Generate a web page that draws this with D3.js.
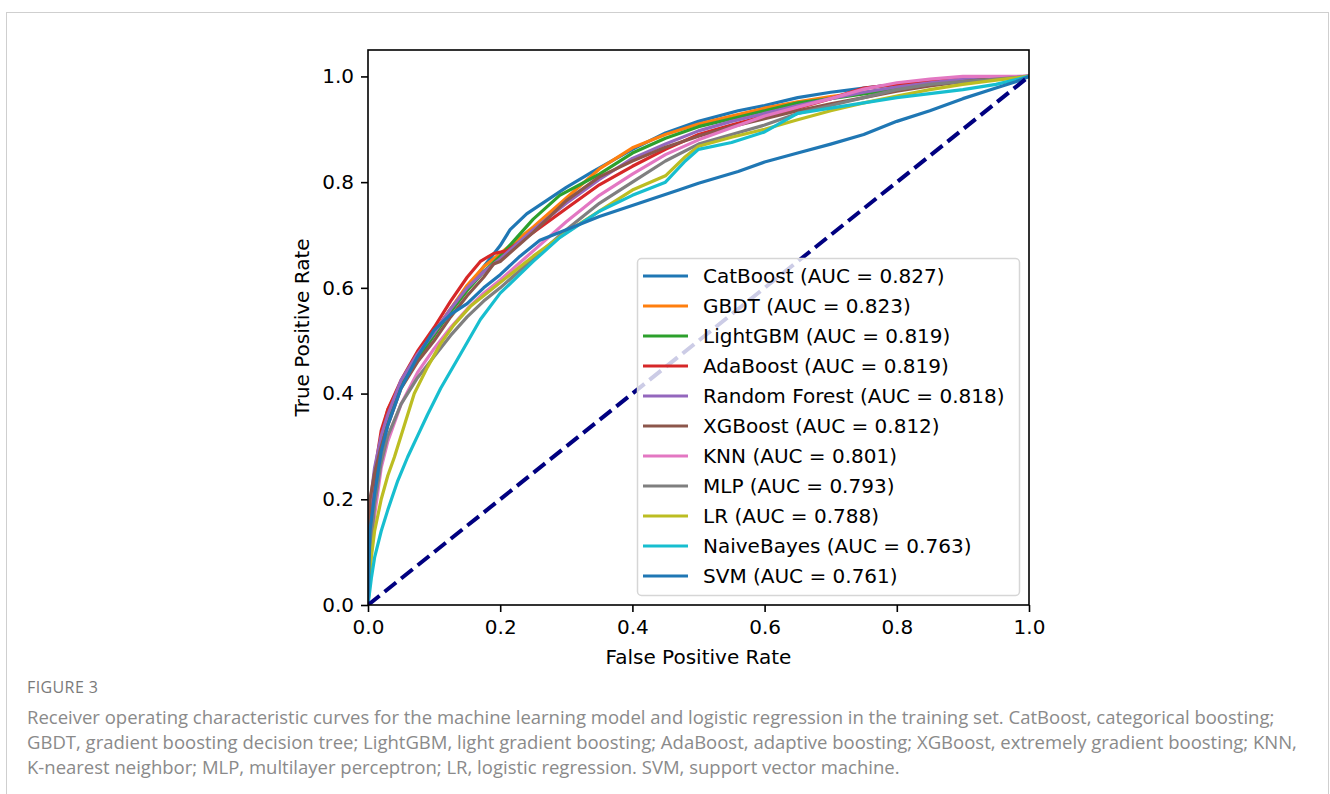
<!DOCTYPE html>
<html>
<head>
<meta charset="utf-8">
<script src="https://cdn.jsdelivr.net/npm/d3@7"></script>
<style>
  html, body { margin: 0; padding: 0; background: #fff; }
</style>
</head>
<body>
<div id="chart"></div>
<script>
// model names + AUC, in plot order
const modelNames = ["CatBoost", "GBDT", "LightGBM", "AdaBoost", "Random Forest", "XGBoost", "KNN", "MLP", "LR", "NaiveBayes", "SVM"];
const aucValues = [0.827, 0.823, 0.819, 0.819, 0.818, 0.812, 0.801, 0.793, 0.788, 0.763, 0.761];
const lineColors = ["#1f77b4", "#ff7f0e", "#2ca02c", "#d62728", "#9467bd", "#8c564b", "#e377c2", "#7f7f7f", "#bcbd22", "#17becf", "#1f77b4"];

// [fpr, tpr]
const catboostRoc = [[0,0],[0.002,0.12],[0.01,0.22],[0.02,0.3],[0.03,0.35],[0.05,0.42],[0.075,0.47],[0.1,0.515],[0.125,0.56],[0.15,0.6],[0.175,0.64],[0.2,0.68],[0.215,0.71],[0.24,0.74],[0.27,0.765],[0.3,0.79],[0.34,0.82],[0.4,0.862],[0.45,0.893],[0.5,0.915],[0.56,0.935],[0.6,0.945],[0.65,0.96],[0.7,0.97],[0.75,0.978],[0.8,0.985],[0.85,0.99],[0.9,0.995],[0.95,0.998],[1,1]];
const gbdtRoc = [[0,0],[0.003,0.15],[0.01,0.24],[0.02,0.32],[0.03,0.37],[0.05,0.42],[0.075,0.475],[0.1,0.515],[0.125,0.56],[0.15,0.605],[0.175,0.64],[0.2,0.665],[0.225,0.69],[0.25,0.715],[0.3,0.77],[0.35,0.825],[0.4,0.865],[0.45,0.89],[0.5,0.91],[0.55,0.925],[0.6,0.94],[0.65,0.952],[0.7,0.962],[0.75,0.97],[0.8,0.978],[0.85,0.986],[0.9,0.993],[0.95,0.998],[1,1]];
const lightgbmRoc = [[0,0],[0.003,0.13],[0.01,0.22],[0.02,0.3],[0.03,0.35],[0.05,0.415],[0.075,0.465],[0.1,0.51],[0.125,0.555],[0.15,0.595],[0.175,0.63],[0.2,0.66],[0.225,0.695],[0.25,0.73],[0.29,0.775],[0.35,0.815],[0.4,0.855],[0.45,0.883],[0.5,0.905],[0.55,0.92],[0.6,0.935],[0.65,0.95],[0.7,0.958],[0.75,0.967],[0.8,0.976],[0.85,0.985],[0.9,0.992],[0.95,0.997],[1,1]];
const adaboostRoc = [[0,0],[0.003,0.16],[0.01,0.25],[0.02,0.33],[0.03,0.37],[0.05,0.425],[0.075,0.48],[0.1,0.525],[0.125,0.575],[0.15,0.62],[0.17,0.65],[0.19,0.665],[0.21,0.67],[0.25,0.705],[0.3,0.75],[0.35,0.795],[0.4,0.83],[0.45,0.862],[0.5,0.89],[0.55,0.908],[0.6,0.925],[0.65,0.94],[0.7,0.958],[0.75,0.978],[0.8,0.985],[0.85,0.99],[0.9,0.995],[0.95,0.998],[1,1]];
const rfRoc = [[0,0],[0.003,0.19],[0.01,0.26],[0.02,0.32],[0.03,0.36],[0.05,0.425],[0.075,0.475],[0.1,0.515],[0.125,0.56],[0.15,0.6],[0.175,0.63],[0.2,0.655],[0.25,0.71],[0.3,0.76],[0.35,0.805],[0.4,0.845],[0.45,0.872],[0.5,0.897],[0.55,0.915],[0.6,0.93],[0.65,0.945],[0.7,0.958],[0.75,0.97],[0.8,0.98],[0.85,0.988],[0.9,0.995],[0.95,0.999],[1,1]];
const xgboostRoc = [[0,0],[0.003,0.2],[0.01,0.25],[0.02,0.3],[0.03,0.34],[0.05,0.41],[0.075,0.46],[0.1,0.5],[0.125,0.545],[0.15,0.585],[0.175,0.62],[0.19,0.645],[0.2,0.65],[0.25,0.705],[0.3,0.765],[0.35,0.81],[0.4,0.84],[0.45,0.866],[0.5,0.887],[0.55,0.905],[0.6,0.92],[0.65,0.935],[0.7,0.948],[0.75,0.96],[0.8,0.972],[0.85,0.982],[0.9,0.99],[0.95,0.996],[1,1]];
const knnRoc = [[0,0],[0.005,0.1],[0.01,0.17],[0.02,0.26],[0.03,0.31],[0.05,0.38],[0.075,0.44],[0.1,0.485],[0.125,0.525],[0.15,0.56],[0.175,0.59],[0.2,0.615],[0.25,0.67],[0.3,0.725],[0.35,0.775],[0.4,0.815],[0.45,0.852],[0.5,0.88],[0.55,0.903],[0.6,0.925],[0.65,0.942],[0.7,0.958],[0.75,0.976],[0.8,0.988],[0.85,0.995],[0.9,1],[1,1]];
const mlpRoc = [[0,0],[0.005,0.12],[0.01,0.19],[0.02,0.27],[0.03,0.32],[0.05,0.38],[0.075,0.43],[0.1,0.47],[0.125,0.51],[0.15,0.545],[0.175,0.575],[0.2,0.6],[0.25,0.655],[0.3,0.71],[0.35,0.76],[0.4,0.8],[0.45,0.84],[0.5,0.872],[0.55,0.89],[0.6,0.908],[0.65,0.93],[0.7,0.945],[0.75,0.96],[0.8,0.975],[0.85,0.985],[0.9,0.99],[0.95,0.995],[1,1]];
const lrRoc = [[0,0],[0.005,0.09],[0.01,0.14],[0.02,0.2],[0.03,0.245],[0.04,0.28],[0.055,0.34],[0.07,0.4],[0.09,0.45],[0.11,0.495],[0.13,0.53],[0.155,0.565],[0.2,0.61],[0.25,0.66],[0.3,0.705],[0.35,0.745],[0.4,0.785],[0.45,0.812],[0.48,0.848],[0.5,0.868],[0.55,0.885],[0.6,0.9],[0.65,0.918],[0.7,0.935],[0.75,0.95],[0.8,0.963],[0.85,0.975],[0.9,0.985],[0.95,0.993],[1,1]];
const nbRoc = [[0,0],[0.005,0.05],[0.01,0.09],[0.02,0.14],[0.03,0.18],[0.045,0.235],[0.06,0.28],[0.075,0.32],[0.09,0.36],[0.11,0.41],[0.14,0.475],[0.17,0.54],[0.2,0.59],[0.25,0.65],[0.29,0.695],[0.35,0.745],[0.4,0.775],[0.45,0.8],[0.48,0.84],[0.5,0.862],[0.55,0.875],[0.6,0.895],[0.65,0.93],[0.7,0.94],[0.8,0.96],[0.9,0.975],[0.95,0.985],[1,1]];
const svmRoc = [[0,0],[0.003,0.14],[0.01,0.21],[0.02,0.29],[0.03,0.34],[0.05,0.41],[0.075,0.47],[0.1,0.52],[0.125,0.55],[0.15,0.57],[0.175,0.6],[0.2,0.625],[0.23,0.66],[0.26,0.69],[0.3,0.71],[0.35,0.735],[0.41,0.76],[0.47,0.785],[0.5,0.798],[0.56,0.82],[0.6,0.838],[0.65,0.855],[0.7,0.872],[0.75,0.89],[0.8,0.915],[0.85,0.935],[0.9,0.958],[0.95,0.978],[0.98,0.99],[1,1]];

const rocCurves = [catboostRoc, gbdtRoc, lightgbmRoc, adaboostRoc, rfRoc, xgboostRoc, knnRoc, mlpRoc, lrRoc, nbRoc, svmRoc];
const chanceLine = [[0, 0], [1, 1]];

const axisTicks = [0, 0.2, 0.4, 0.6, 0.8, 1.0];

const captionTitle = "FIGURE 3";
const captionLines = [
  "Receiver operating characteristic curves for the machine learning model and logistic regression in the training set. CatBoost, categorical boosting;",
  "GBDT, gradient boosting decision tree; LightGBM, light gradient boosting; AdaBoost, adaptive boosting; XGBoost, extremely gradient boosting; KNN,",
  "K-nearest neighbor; MLP, multilayer perceptron; LR, logistic regression. SVM, support vector machine."
];

const W = 1330, H = 794;
const plotLeft = 368, plotRight = 1029, plotTop = 50, plotBottom = 605;
const tickFont = "DejaVu Sans";

const svg = d3.select("#chart")
  .append("svg")
  .attr("width", W)
  .attr("height", H);

// outer figure box
svg.append("rect")
  .attr("x", 6.5)
  .attr("y", 12.5)
  .attr("width", 1322)
  .attr("height", 900)
  .attr("fill", "none")
  .attr("stroke", "#cfcfcf")
  .attr("stroke-width", 1);

const x = d3.scaleLinear().domain([0, 1]).range([plotLeft, plotRight]);
const y = d3.scaleLinear().domain([0, 1.05]).range([plotBottom, plotTop]);

svg.append("clipPath")
  .attr("id", "plot-clip")
  .append("rect")
  .attr("x", plotLeft)
  .attr("y", plotTop)
  .attr("width", plotRight - plotLeft)
  .attr("height", plotBottom - plotTop);

const line = d3.line()
  .x(d => x(d[0]))
  .y(d => y(d[1]));

const curves = svg.append("g").attr("clip-path", "url(#plot-clip)");

curves.selectAll("path.roc")
  .data(rocCurves)
  .enter()
  .append("path")
  .attr("class", "roc")
  .attr("d", d => line(d))
  .attr("fill", "none")
  .attr("stroke", (d, i) => lineColors[i])
  .attr("stroke-width", 3.2)
  .attr("stroke-linejoin", "round");

// chance diagonal
curves.append("path")
  .attr("d", line(chanceLine))
  .attr("fill", "none")
  .attr("stroke", "navy")
  .attr("stroke-width", 4)
  .attr("stroke-dasharray", "14.8,6.4");

// axes
const xAxis = svg.append("g")
  .attr("transform", `translate(0,${plotBottom})`)
  .call(d3.axisBottom(x).tickValues(axisTicks).tickFormat(d3.format(".1f")).tickSize(7).tickPadding(8));

const yAxis = svg.append("g")
  .attr("transform", `translate(${plotLeft},0)`)
  .call(d3.axisLeft(y).tickValues(axisTicks).tickFormat(d3.format(".1f")).tickSize(7).tickPadding(7));

[xAxis, yAxis].forEach(g => {
  g.select(".domain").remove();
  g.selectAll(".tick line").attr("stroke", "#000").attr("stroke-width", 1.6);
  g.selectAll(".tick text")
    .attr("fill", "#000")
    .attr("font-family", tickFont)
    .attr("font-size", 20);
});

svg.append("rect")
  .attr("x", plotLeft)
  .attr("y", plotTop)
  .attr("width", plotRight - plotLeft)
  .attr("height", plotBottom - plotTop)
  .attr("fill", "none")
  .attr("stroke", "#000")
  .attr("stroke-width", 1.6);

// axis titles
svg.append("text")
  .attr("x", (plotLeft + plotRight) / 2)
  .attr("y", 664)
  .attr("text-anchor", "middle")
  .attr("font-family", tickFont)
  .attr("font-size", 20)
  .text("False Positive Rate");

svg.append("text")
  .attr("transform", `translate(309,${(plotTop + plotBottom) / 2}) rotate(-90)`)
  .attr("text-anchor", "middle")
  .attr("font-family", tickFont)
  .attr("font-size", 20)
  .text("True Positive Rate");

// legend
const legendX = 637, legendY = 258, legendW = 382, legendH = 337;
const rowStep = 30;
const legend = svg.append("g");

legend.append("rect")
  .attr("x", legendX + 0.5)
  .attr("y", legendY + 0.5)
  .attr("width", legendW)
  .attr("height", legendH)
  .attr("rx", 4)
  .attr("fill", "#fff")
  .attr("fill-opacity", 0.8)
  .attr("stroke", "#d6d6d6")
  .attr("stroke-width", 1.5);

const rows = legend.selectAll("g.row")
  .data(modelNames)
  .enter()
  .append("g")
  .attr("class", "row")
  .attr("transform", (d, i) => `translate(0,${legendY + 18 + i * rowStep})`);

rows.append("line")
  .attr("x1", 643)
  .attr("x2", 688)
  .attr("y1", 0)
  .attr("y2", 0)
  .attr("stroke", (d, i) => lineColors[i])
  .attr("stroke-width", 3.2);

rows.append("text")
  .attr("x", 703)
  .attr("y", 7)
  .attr("font-family", tickFont)
  .attr("font-size", 20)
  .attr("fill", "#000")
  .text((d, i) => `${d} (AUC = ${aucValues[i].toFixed(3)})`);

// caption
svg.append("text")
  .attr("x", 27)
  .attr("y", 693)
  .attr("font-family", "Open Sans")
  .attr("font-size", 16)
  .attr("letter-spacing", 0.4)
  .attr("fill", "#7a7a7a")
  .text(captionTitle);

svg.selectAll("text.caption")
  .data(captionLines)
  .enter()
  .append("text")
  .attr("class", "caption")
  .attr("x", 27)
  .attr("y", (d, i) => 724 + i * 25)
  .attr("font-family", "Open Sans")
  .attr("font-size", 18.5)
  .attr("fill", "#8a8a8a")
  .text(d => d);
</script>
</body>
</html>
